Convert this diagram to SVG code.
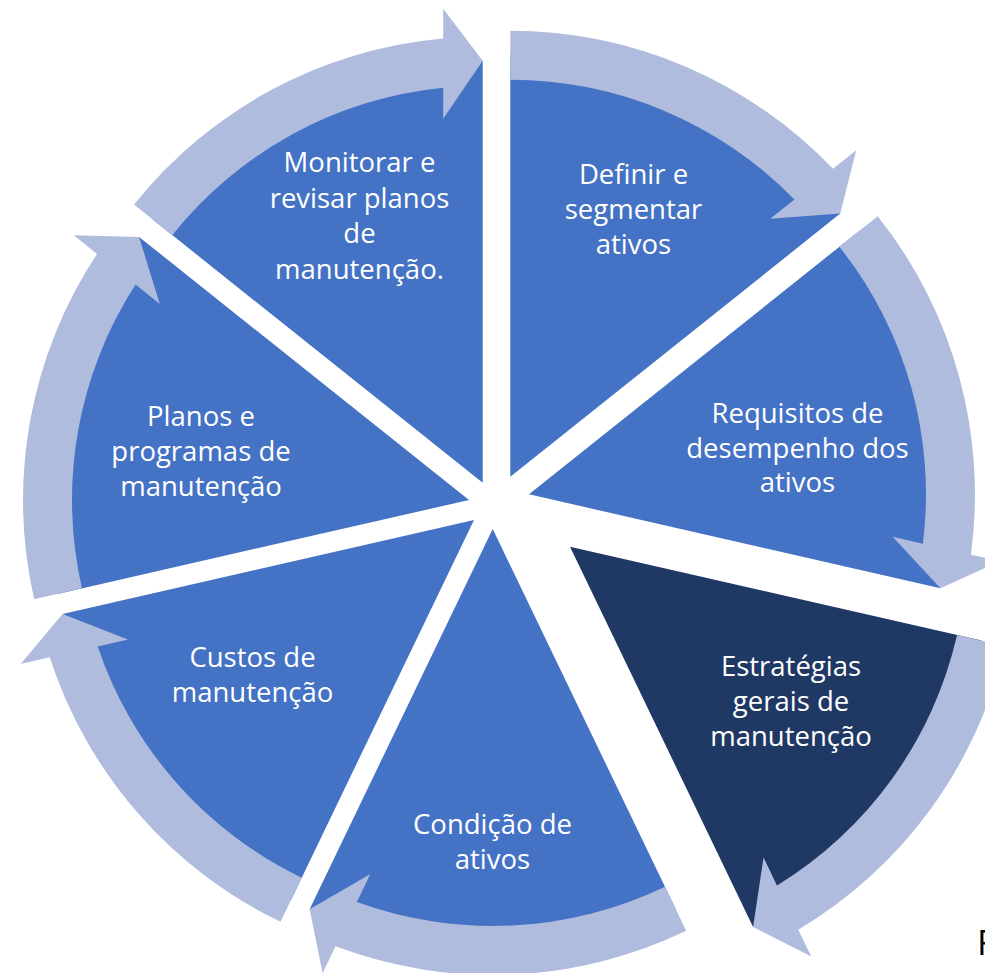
<svg xmlns="http://www.w3.org/2000/svg" xmlns:xlink="http://www.w3.org/1999/xlink" width="985" height="973" viewBox="0 0 985 973">
  <style>
    .wedge { fill: #4472C4; }
    .wedge.dark { fill: #203864; }
    .arrow { fill: #B0BCDE; }
    .lbl { font-family: "Open Sans", "Noto Sans", sans-serif; font-size: 27.5px; fill: #FFFFFF; text-anchor: middle; }
    .note { font-family: "Open Sans", "Noto Sans", sans-serif; font-size: 35px; fill: #000000; }
  </style>
  <defs>
    <path id="wedgeShape" d="M0,0 L0,-422 A422,422 0 0 1 329.93,-263.11 Z"/>
    <path id="arrowShape" d="M0,-446 A446,446 0 0 1 322.66,-307.83 L345.96,-326.41 L329.93,-263.11 L259.96,-257.83 L284.19,-277.16 A397,397 0 0 0 0,-397 Z"/>
  </defs>
  <rect width="985" height="973" fill="#FFFFFF"/>

  <g id="node-definir">
    <use xlink:href="#wedgeShape" href="#wedgeShape" class="wedge" transform="translate(510.3,476.7)"/>
    <text class="lbl" x="633.5" y="184">Definir e</text>
    <text class="lbl" x="633.5" y="219">segmentar</text>
    <text class="lbl" x="633.5" y="254">ativos</text>
  </g>
  <g id="node-requisitos">
    <use xlink:href="#wedgeShape" href="#wedgeShape" class="wedge" transform="translate(529,494.3) rotate(51.4286)"/>
    <text class="lbl" x="797.5" y="423">Requisitos de</text>
    <text class="lbl" x="797.5" y="457.5">desempenho dos</text>
    <text class="lbl" x="797.5" y="492">ativos</text>
  </g>
  <g id="node-estrategias">
    <use xlink:href="#wedgeShape" href="#wedgeShape" class="wedge dark" transform="translate(570,546.7) rotate(102.8571)"/>
    <text class="lbl" x="791" y="676">Estratégias</text>
    <text class="lbl" x="791" y="711">gerais de</text>
    <text class="lbl" x="791" y="746">manutenção</text>
  </g>
  <g id="node-condicao">
    <use xlink:href="#wedgeShape" href="#wedgeShape" class="wedge" transform="translate(492.7,529) rotate(154.2857)"/>
    <text class="lbl" x="492.5" y="834">Condição de</text>
    <text class="lbl" x="492.5" y="868.5">ativos</text>
  </g>
  <g id="node-custos">
    <use xlink:href="#wedgeShape" href="#wedgeShape" class="wedge" transform="translate(474,520) rotate(205.7143)"/>
    <text class="lbl" x="252.5" y="667">Custos de</text>
    <text class="lbl" x="252.5" y="701.5">manutenção</text>
  </g>
  <g id="node-planos">
    <use xlink:href="#wedgeShape" href="#wedgeShape" class="wedge" transform="translate(469,500) rotate(257.1429)"/>
    <text class="lbl" x="201" y="426">Planos e</text>
    <text class="lbl" x="201" y="461">programas de</text>
    <text class="lbl" x="201" y="496">manutenção</text>
  </g>
  <g id="node-monitorar">
    <use xlink:href="#wedgeShape" href="#wedgeShape" class="wedge" transform="translate(482.7,482.7) rotate(308.5714)"/>
    <text class="lbl" x="359.5" y="172">Monitorar e</text>
    <text class="lbl" x="359.5" y="207.5">revisar planos</text>
    <text class="lbl" x="359.5" y="243">de</text>
    <text class="lbl" x="359.5" y="278.5">manutenção.</text>
  </g>

  <g id="connectors">
    <use xlink:href="#arrowShape" href="#arrowShape" class="arrow" transform="translate(510.3,476.7)"/>
    <use xlink:href="#arrowShape" href="#arrowShape" class="arrow" transform="translate(529,494.3) rotate(51.4286)"/>
    <use xlink:href="#arrowShape" href="#arrowShape" class="arrow" transform="translate(570,546.7) rotate(102.8571)"/>
    <use xlink:href="#arrowShape" href="#arrowShape" class="arrow" transform="translate(492.7,529) rotate(154.2857)"/>
    <use xlink:href="#arrowShape" href="#arrowShape" class="arrow" transform="translate(474,520) rotate(205.7143)"/>
    <use xlink:href="#arrowShape" href="#arrowShape" class="arrow" transform="translate(469,500) rotate(257.1429)"/>
    <use xlink:href="#arrowShape" href="#arrowShape" class="arrow" transform="translate(482.7,482.7) rotate(308.5714)"/>
  </g>

  <text class="note" x="977" y="955">F</text>
</svg>
